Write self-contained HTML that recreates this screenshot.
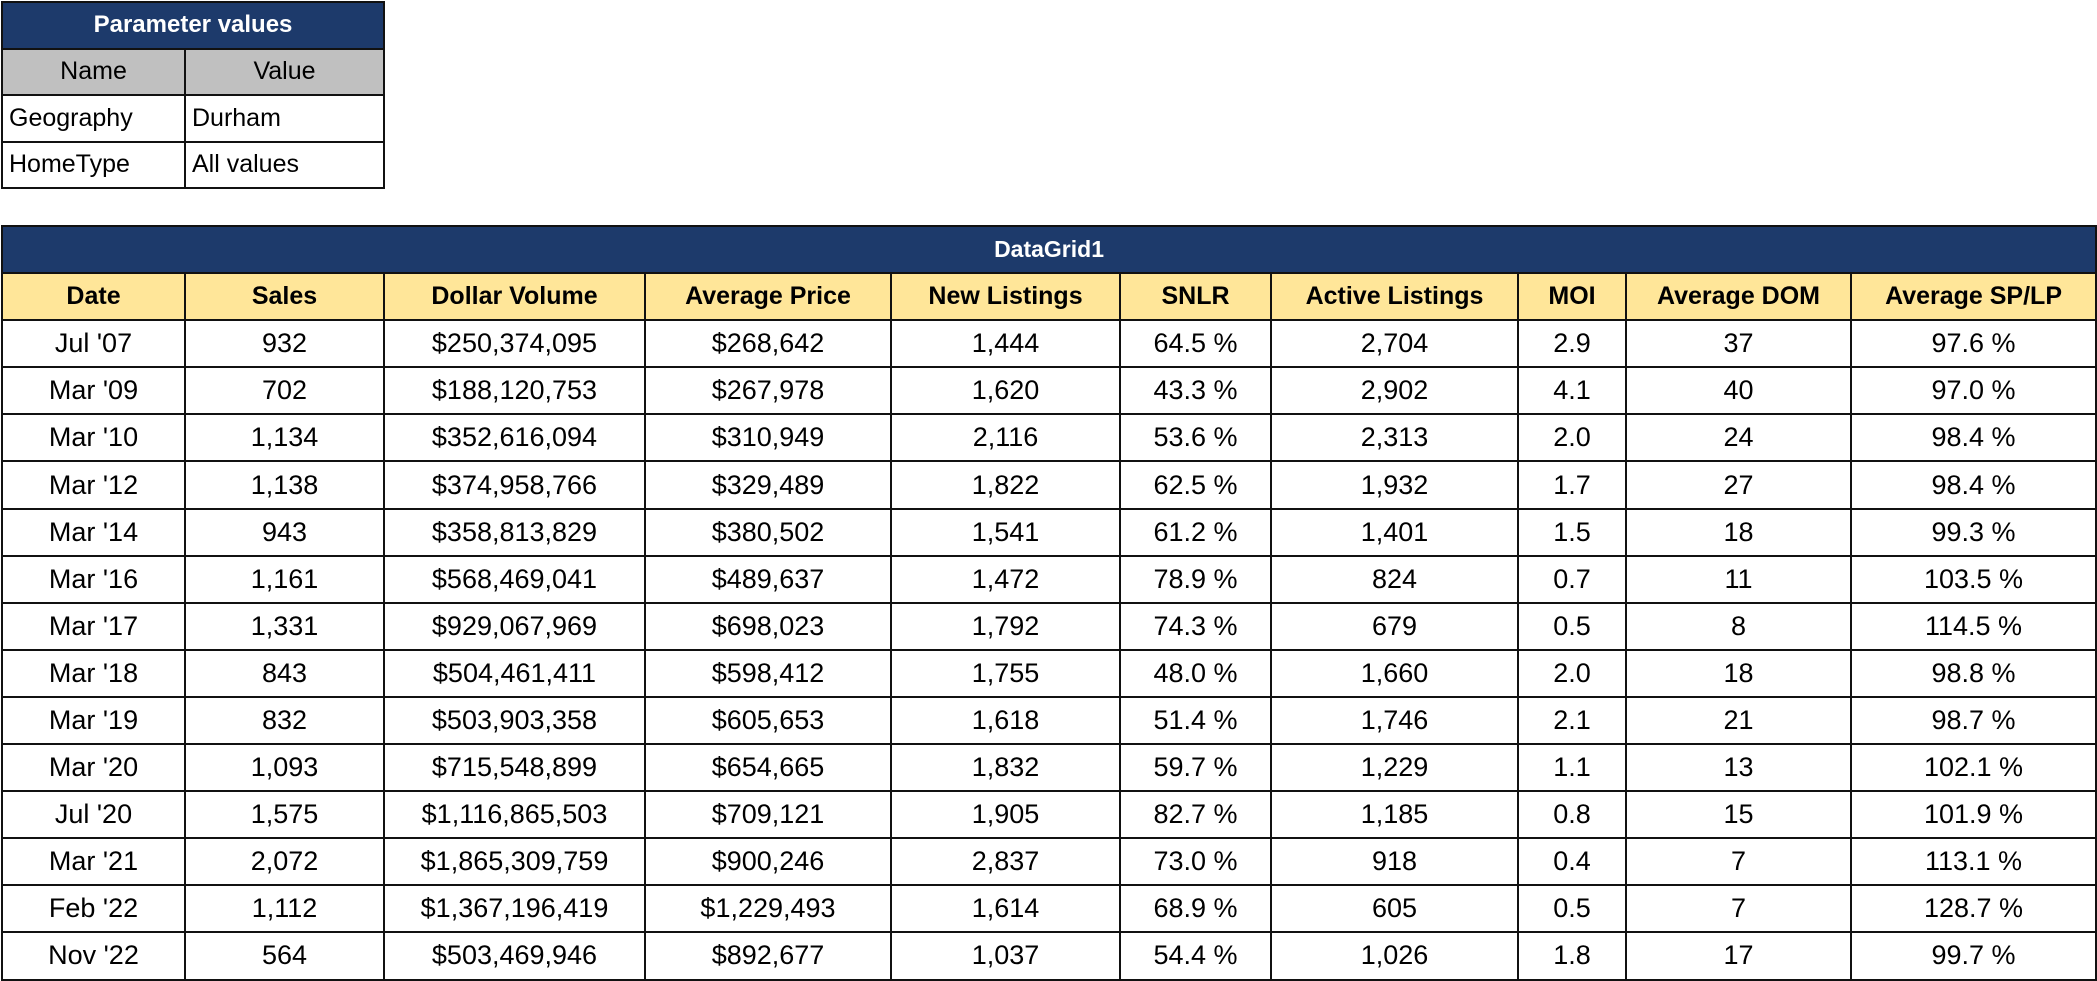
<!DOCTYPE html>
<html><head><meta charset="utf-8"><style>
html,body{margin:0;padding:0;background:#fff;width:2097px;height:979px;overflow:hidden}
body{font-family:"Liberation Sans",sans-serif;color:#000}
table{border-collapse:collapse;table-layout:fixed;position:absolute;left:1px}
td{border:2px solid #111;padding:0;white-space:nowrap;overflow:hidden;line-height:1}
#p{top:1px;width:382px}
#p td{height:44.5px;font-size:25px}
#p .t{background:#1d3a6b;color:#fff;font-weight:bold;text-align:center;font-size:24px}
#p .h{background:#c0c0c0;text-align:center}
#p .l{padding-left:6px}
#d{top:225px;width:2094px}
#d td{height:45.1px;font-size:27px;text-align:center}
#d .t{background:#1d3a6b;color:#fff;font-weight:bold;font-size:23px}
#d .h td{background:#ffe699;font-weight:bold;font-size:25px}
</style></head><body>
<table id="p"><colgroup><col style="width:183px"><col style="width:199px"></colgroup>
<tr><td class="t" colspan="2">Parameter values</td></tr>
<tr><td class="h">Name</td><td class="h">Value</td></tr>
<tr><td class="l">Geography</td><td class="l">Durham</td></tr>
<tr><td class="l">HomeType</td><td class="l">All values</td></tr>
</table>
<table id="d"><colgroup><col style="width:183px"><col style="width:199px"><col style="width:261px"><col style="width:246px"><col style="width:229px"><col style="width:151px"><col style="width:247px"><col style="width:108px"><col style="width:225px"><col style="width:245px"></colgroup>
<tr><td class="t" colspan="10">DataGrid1</td></tr>
<tr class="h"><td>Date</td><td>Sales</td><td>Dollar Volume</td><td>Average Price</td><td>New Listings</td><td>SNLR</td><td>Active Listings</td><td>MOI</td><td>Average DOM</td><td>Average SP/LP</td></tr>
<tr><td>Jul '07</td><td>932</td><td>$250,374,095</td><td>$268,642</td><td>1,444</td><td>64.5 %</td><td>2,704</td><td>2.9</td><td>37</td><td>97.6 %</td></tr>
<tr><td>Mar '09</td><td>702</td><td>$188,120,753</td><td>$267,978</td><td>1,620</td><td>43.3 %</td><td>2,902</td><td>4.1</td><td>40</td><td>97.0 %</td></tr>
<tr><td>Mar '10</td><td>1,134</td><td>$352,616,094</td><td>$310,949</td><td>2,116</td><td>53.6 %</td><td>2,313</td><td>2.0</td><td>24</td><td>98.4 %</td></tr>
<tr><td>Mar '12</td><td>1,138</td><td>$374,958,766</td><td>$329,489</td><td>1,822</td><td>62.5 %</td><td>1,932</td><td>1.7</td><td>27</td><td>98.4 %</td></tr>
<tr><td>Mar '14</td><td>943</td><td>$358,813,829</td><td>$380,502</td><td>1,541</td><td>61.2 %</td><td>1,401</td><td>1.5</td><td>18</td><td>99.3 %</td></tr>
<tr><td>Mar '16</td><td>1,161</td><td>$568,469,041</td><td>$489,637</td><td>1,472</td><td>78.9 %</td><td>824</td><td>0.7</td><td>11</td><td>103.5 %</td></tr>
<tr><td>Mar '17</td><td>1,331</td><td>$929,067,969</td><td>$698,023</td><td>1,792</td><td>74.3 %</td><td>679</td><td>0.5</td><td>8</td><td>114.5 %</td></tr>
<tr><td>Mar '18</td><td>843</td><td>$504,461,411</td><td>$598,412</td><td>1,755</td><td>48.0 %</td><td>1,660</td><td>2.0</td><td>18</td><td>98.8 %</td></tr>
<tr><td>Mar '19</td><td>832</td><td>$503,903,358</td><td>$605,653</td><td>1,618</td><td>51.4 %</td><td>1,746</td><td>2.1</td><td>21</td><td>98.7 %</td></tr>
<tr><td>Mar '20</td><td>1,093</td><td>$715,548,899</td><td>$654,665</td><td>1,832</td><td>59.7 %</td><td>1,229</td><td>1.1</td><td>13</td><td>102.1 %</td></tr>
<tr><td>Jul '20</td><td>1,575</td><td>$1,116,865,503</td><td>$709,121</td><td>1,905</td><td>82.7 %</td><td>1,185</td><td>0.8</td><td>15</td><td>101.9 %</td></tr>
<tr><td>Mar '21</td><td>2,072</td><td>$1,865,309,759</td><td>$900,246</td><td>2,837</td><td>73.0 %</td><td>918</td><td>0.4</td><td>7</td><td>113.1 %</td></tr>
<tr><td>Feb '22</td><td>1,112</td><td>$1,367,196,419</td><td>$1,229,493</td><td>1,614</td><td>68.9 %</td><td>605</td><td>0.5</td><td>7</td><td>128.7 %</td></tr>
<tr><td>Nov '22</td><td>564</td><td>$503,469,946</td><td>$892,677</td><td>1,037</td><td>54.4 %</td><td>1,026</td><td>1.8</td><td>17</td><td>99.7 %</td></tr>
</table>
</body></html>
